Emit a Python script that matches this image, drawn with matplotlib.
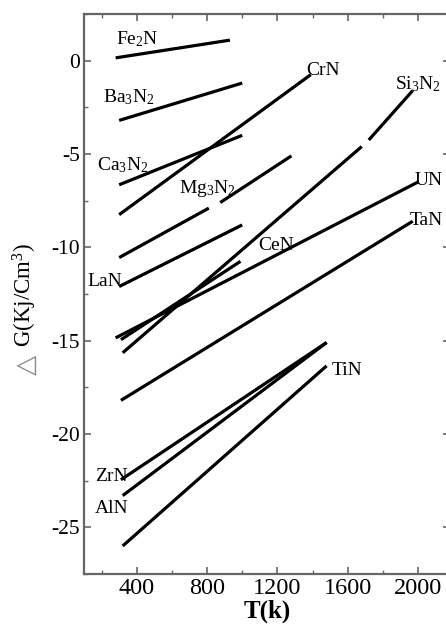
import numpy as np
import matplotlib
matplotlib.use("Agg")
import matplotlib.pyplot as plt
from matplotlib.ticker import MultipleLocator, FixedLocator

plt.rcParams['font.family'] = ['Liberation Serif', 'DejaVu Serif']
plt.rcParams['mathtext.fontset'] = 'custom'
plt.rcParams['mathtext.rm'] = 'Liberation Serif'
plt.rcParams['mathtext.it'] = 'Liberation Serif'
plt.rcParams['mathtext.bf'] = 'Liberation Serif:bold'

# ---- data (T in K, dG in kJ/cm^3) ----
nan = np.nan
fe2n_T = [280, 930];            fe2n_G = [0.15, 1.1]
ba3n2_T = [300, 1000];          ba3n2_G = [-3.2, -1.2]
ca3n2_T = [300, 1000];          ca3n2_G = [-6.65, -4.0]
crn_T = [300, 1390];            crn_G = [-8.25, -0.75]
mg3n2_T = [300, 810, nan, 875, 1280]
mg3n2_G = [-10.55, -7.9, nan, -7.6, -5.1]
lan_T = [300, 1000];            lan_G = [-12.1, -8.8]
cen_T = [310, 990];             cen_G = [-14.95, -10.75]
un_T = [280, 2000];             un_G = [-14.85, -6.5]
si3n2_T = [320, 1680, nan, 1720, 1970]
si3n2_G = [-15.65, -4.6, nan, -4.25, -1.6]
tan_T = [310, 1970];            tan_G = [-18.2, -8.6]
zrn_T = [310, 1480];            zrn_G = [-22.45, -15.1]
aln_T = [320, 1480];            aln_G = [-23.3, -15.1]
tin_T = [320, 1480];            tin_G = [-26.0, -16.35]

series = [(fe2n_T, fe2n_G), (ba3n2_T, ba3n2_G), (ca3n2_T, ca3n2_G),
          (crn_T, crn_G), (mg3n2_T, mg3n2_G), (lan_T, lan_G),
          (cen_T, cen_G), (un_T, un_G), (si3n2_T, si3n2_G),
          (tan_T, tan_G), (zrn_T, zrn_G), (aln_T, aln_G), (tin_T, tin_G)]

label_texts = ["Fe$_2$N", "Ba$_3$N$_2$", "Ca$_3$N$_2$", "CrN", "Mg$_3$N$_2$",
               "LaN", "CeN", "UN", "Si$_3$N$_2$", "TaN", "ZrN", "AlN", "TiN"]
label_T = [283, 209, 175, 1367, 642, 119, 1089, 1982, 1868, 1953, 163, 163, 1508]
label_G = [0.86, -2.25, -5.88, -0.75, -7.09, -12.09, -10.12, -6.64, -1.52,
           -8.78, -22.53, -24.21, -16.82]

xticks = [400, 800, 1200, 1600, 2000]
xticklabels = ["400", "800", "1200", "1600", "2000"]
yticks = [0, -5, -10, -15, -20, -25]
yticklabels = ["0", "-5", "-10", "-15", "-20", "-25"]

fig = plt.figure(figsize=(4.46, 6.3), dpi=100)
ax = fig.add_axes([84/446, 1-574/630, (450-84)/446, (574-14)/630])

for T, G in series:
    ax.plot(T, G, color='black', lw=2.3, solid_capstyle='butt')

for txt, t, g in zip(label_texts, label_T, label_G):
    ax.text(t, g, txt, fontsize=14, ha='left', va='baseline', color='black')

ax.set_xlim(100, 2182)
ax.set_ylim(-27.5, 2.5)
ax.xaxis.set_major_locator(FixedLocator(xticks))
ax.set_xticklabels(xticklabels)
ax.xaxis.set_minor_locator(MultipleLocator(200))
ax.yaxis.set_major_locator(FixedLocator(yticks))
ax.set_yticklabels(yticklabels)
ax.yaxis.set_minor_locator(MultipleLocator(2.5))

spine_col = '#666666'
for s in ax.spines.values():
    s.set_color(spine_col)
    s.set_linewidth(1.6)
ax.tick_params(which='both', direction='in', top=True, right=True,
               color=spine_col)
ax.tick_params(which='major', length=5, width=1.2)
ax.tick_params(which='minor', length=3, width=1.0)
ax.tick_params(axis='x', which='major', labelsize=17.5, pad=3)
ax.tick_params(axis='y', which='major', labelsize=15.5, pad=3)

ax.set_xlabel("T(k)", fontsize=18, fontweight='bold', labelpad=0)
fig.text(25/446, 1-295/630, "G(Kj/Cm$^3$)", rotation=90, fontsize=16.5,
         ha='center', va='center', color='black')
fig.text(27/446, 1-365/630, "\u25b3", rotation=90, fontsize=19,
         ha='center', va='center', color='#8a8a8a',
         family=['DejaVu Sans'])

fig.savefig("out.png", dpi=100)
